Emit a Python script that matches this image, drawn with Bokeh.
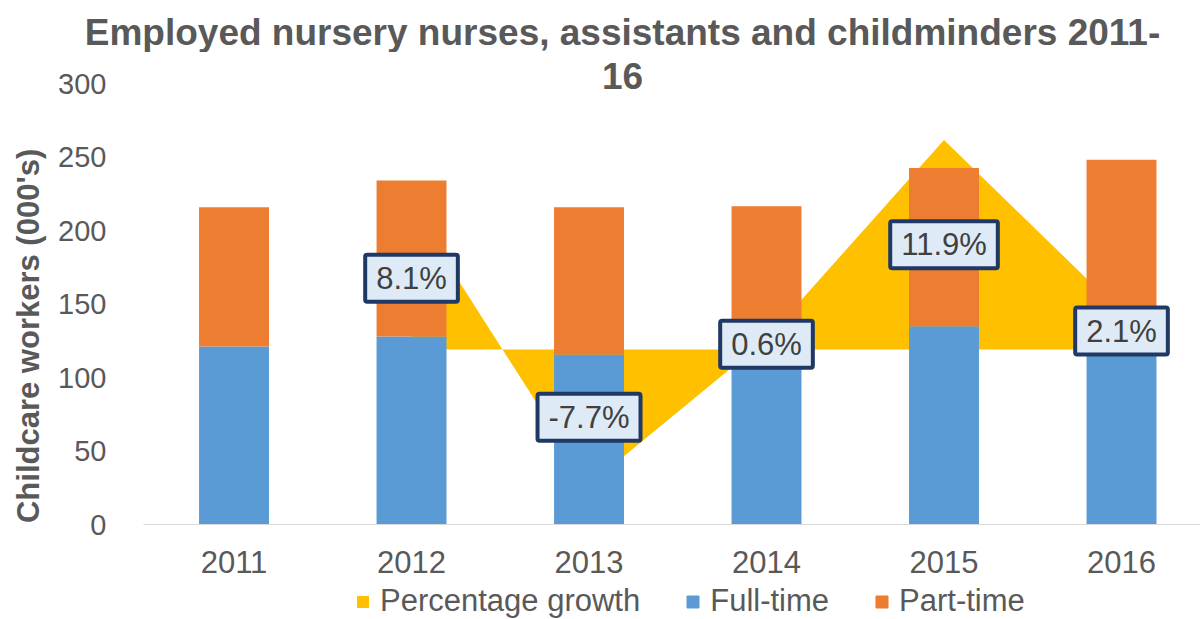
from bokeh.plotting import figure
from bokeh.models import Range1d, FixedTicker, Legend, LegendItem, ColumnDataSource
from bokeh.layouts import column
from bokeh.embed import file_html
from bokeh.resources import INLINE
from bokeh.core.properties import value

# ---------------- data ----------------
years = [2011, 2012, 2013, 2014, 2015, 2016]
year_labels = ["2011", "2012", "2013", "2014", "2015", "2016"]
full_time = [121.1, 127.9, 115.6, 112.0, 134.9, 118.0]
part_time = [94.8, 106.1, 100.3, 104.5, 107.7, 130.1]

growth_years = [2012, 2013, 2014, 2015, 2016]
growth_pct = [8.1, -7.7, 0.6, 11.9, 2.1]
growth_labels = ["8.1%", "-7.7%", "0.6%", "11.9%", "2.1%"]

y_ticks = [0, 50, 100, 150, 200, 250, 300]

title_line1 = "Employed nursery nurses, assistants and childminders 2011-"
title_line2 = "16"
y_label = "Childcare workers (000's)"
series_names = ["Percentage growth", "Full-time", "Part-time"]

# ---------------- style / geometry ----------------
FONT = "Liberation Sans"
GREY = "#595959"
BLUE = "#5B9BD5"
ORANGE = "#ED7D31"
YELLOW = "#FFC000"

W, H = 1200, 619
TOP_H = 52                 # title strip height
LEG_H = 36                 # legend strip height
MAIN_H = H - TOP_H - LEG_H
FRAME_BOTTOM = 524         # canvas y of value 0
FRAME_LEFT = 143
Y300_PX = 83               # canvas y of value 300
PX_PER_UNIT = (FRAME_BOTTOM - Y300_PX) / 300.0
Y_END = 300 + (Y300_PX - TOP_H) / PX_PER_UNIT
PCT_ZERO_PX, PX_PER_PCT = 349, 17.6
PCT_START = -(FRAME_BOTTOM - PCT_ZERO_PX) / PX_PER_PCT
PCT_END = (PCT_ZERO_PX - TOP_H) / PX_PER_PCT
TITLE_CX = 622             # canvas x of the title centre


def bare(height):
    f = figure(width=W, height=height, x_range=Range1d(0, W),
               y_range=Range1d(height, 0), x_axis_type=None, y_axis_type=None,
               output_backend="svg", toolbar_location=None,
               min_border_left=0, min_border_right=0,
               min_border_top=0, min_border_bottom=0, frame_align=False)
    f.outline_line_color = None
    f.grid.visible = False
    return f


# ---------------- title strip ----------------
top = bare(TOP_H)
top.text(x=[TITLE_CX], y=[32], text=[title_line1],
         text_font=value(FONT), text_font_size="37px", text_font_style="bold",
         text_color=GREY, text_align="center", text_baseline="middle")

# ---------------- main chart ----------------
p = figure(width=W, height=MAIN_H,
           x_range=Range1d(2010.49, 2016.445), y_range=Range1d(0, Y_END),
           output_backend="svg", toolbar_location=None, frame_align=False,
           min_border_left=FRAME_LEFT, min_border_right=0,
           min_border_top=0, min_border_bottom=TOP_H + MAIN_H - FRAME_BOTTOM)
p.extra_y_ranges = {"pct": Range1d(PCT_START, PCT_END)}
p.outline_line_color = None
p.xgrid.visible = False
p.ygrid.visible = False

gsrc = ColumnDataSource(dict(x=growth_years, top=growth_pct,
                             base=[0] * len(growth_pct),
                             mid=[v / 2 for v in growth_pct],
                             lab=growth_labels))
p.varea(x="x", y1="base", y2="top", source=gsrc, y_range_name="pct",
        fill_color=YELLOW)

src = ColumnDataSource(dict(x=years, full=full_time, part=part_time))
p.vbar_stack(["full", "part"], x="x", width=0.394, source=src,
             color=[BLUE, ORANGE], line_color=None)

p.text(x="x", y="mid", text="lab", source=gsrc, y_range_name="pct",
       text_font=value(FONT), text_font_size="31px", text_color="#404040",
       text_align="center", text_baseline="middle",
       background_fill_color="#DEEBF7", border_line_color="#1F3864",
       border_line_width=4,
       padding=dict(left=11, right=11, top=6, bottom=6), border_radius=2)

# second title line ("16"), level with the 300 tick
title_x = 2011 + (TITLE_CX - 233.5) / 177.5
p.text(x=[title_x], y=[(FRAME_BOTTOM - 75) / PX_PER_UNIT], text=[title_line2],
       text_font=value(FONT), text_font_size="37px", text_font_style="bold",
       text_color=GREY, text_align="center", text_baseline="middle")

xa = p.xaxis[0]
xa.ticker = FixedTicker(ticks=years)
xa.major_label_overrides = {y: l for y, l in zip(years, year_labels)}
xa.axis_line_color = "#D9D9D9"
xa.axis_line_width = 1
xa.major_tick_line_color = None
xa.minor_tick_line_color = None
xa.major_label_standoff = 20
xa.major_label_text_font = FONT
xa.major_label_text_font_size = "31px"
xa.major_label_text_color = GREY

ya = p.yaxis[0]
ya.ticker = FixedTicker(ticks=y_ticks)
ya.axis_line_color = None
ya.major_tick_line_color = None
ya.minor_tick_line_color = None
ya.major_label_standoff = 31
ya.major_label_text_font = FONT
ya.major_label_text_font_size = "29px"
ya.major_label_text_color = GREY
# trailing no-break spaces move the centred label down to the reference position
ya.axis_label = y_label + "\u00a0" * 11
ya.axis_label_text_font = FONT
ya.axis_label_text_font_size = "31px"
ya.axis_label_text_font_style = "bold"
ya.axis_label_text_color = GREY
ya.axis_label_standoff = 9

# ---------------- legend strip ----------------
leg = bare(LEG_H)
nan = float("nan")
placeholder = ColumnDataSource(dict(x=[nan], y1=[nan], y2=[nan]))
r_pct = leg.varea(x="x", y1="y1", y2="y2", source=placeholder, fill_color=YELLOW)
r_full = leg.vbar(x="x", top="y2", width=1, source=placeholder, color=BLUE)
r_part = leg.vbar(x="x", top="y2", width=1, source=placeholder, color=ORANGE)
legend = Legend(items=[LegendItem(label=series_names[0], renderers=[r_pct]),
                       LegendItem(label=series_names[1], renderers=[r_full]),
                       LegendItem(label=series_names[2], renderers=[r_part])],
                orientation="horizontal", location=(355, 0),
                label_text_font=FONT, label_text_font_size="31px",
                label_text_color=GREY, glyph_width=15, glyph_height=15,
                label_standoff=10, spacing=45, padding=0, margin=0,
                border_line_color=None, background_fill_alpha=0)
leg.add_layout(legend, "center")

layout = column(top, p, leg, spacing=0)
open("out.html", "w").write(file_html(layout, INLINE))
